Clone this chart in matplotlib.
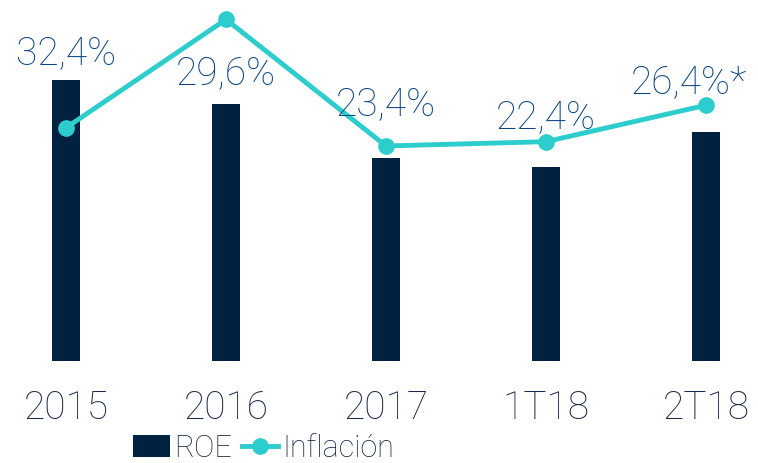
import matplotlib
matplotlib.use("Agg")
import matplotlib.pyplot as plt
import numpy as np

# datos
categorias = ["2015", "2016", "2017", "1T18", "2T18"]
roe = [32.4, 29.6, 23.4, 22.4, 26.4]
etiquetas_roe = ["32,4%", "29,6%", "23,4%", "22,4%", "26,4%*"]
inflacion = [26.9, 39.4, 24.8, 25.3, 29.5]

# desplazamiento de las etiquetas (px)
desp_etiquetas = [(0, 28), (0, 32), (0, 55), (0, 50), (-17, 51)]

plt.rcParams['font.family'] = ['Roboto', 'DejaVu Sans']
plt.rcParams['font.weight'] = 'light'

c_barra = "#00213f"
c_linea = "#2dcccd"
c_etiqueta = "#0a4283"
c_texto = "#1b2a47"

fig = plt.figure(figsize=(7.58, 4.64), dpi=100)
ax = fig.add_axes([0, (464 - 362) / 464, 1, 362 / 464])

x = np.arange(len(categorias))
barras = ax.bar(x, roe, width=0.17, color=c_barra, label="ROE", zorder=2)
linea, = ax.plot(x, inflacion, color=c_linea, lw=3.5, marker="o", ms=11,
                 label="Inflación", zorder=3)

for xi, v, txt, (dx, dy) in zip(x, roe, etiquetas_roe, desp_etiquetas):
    ax.annotate(txt, xy=(xi, v), xytext=(dx * 0.72, dy * 0.72),
                textcoords="offset points", ha="center", va="center",
                fontsize=28, color=c_etiqueta, zorder=4)

ax.set_xlim(-66 / 160, (758 - 66) / 160)
ax.set_ylim(0, 362 / 8.67)
ax.set_xticks(x)
ax.set_xticklabels(categorias, fontsize=28, color=c_texto)
ax.tick_params(axis="x", length=0, pad=20)
ax.set_yticks([])
for s in ax.spines.values():
    s.set_visible(False)

fig.legend(handles=[barras, linea], loc="center",
           bbox_to_anchor=(264 / 758, 1 - 449 / 464), ncol=2, frameon=False,
           fontsize=22, labelcolor=c_texto, handlelength=1.2,
           handletextpad=0.15, columnspacing=0.3, borderaxespad=0)

fig.savefig("out.png", dpi=100)
